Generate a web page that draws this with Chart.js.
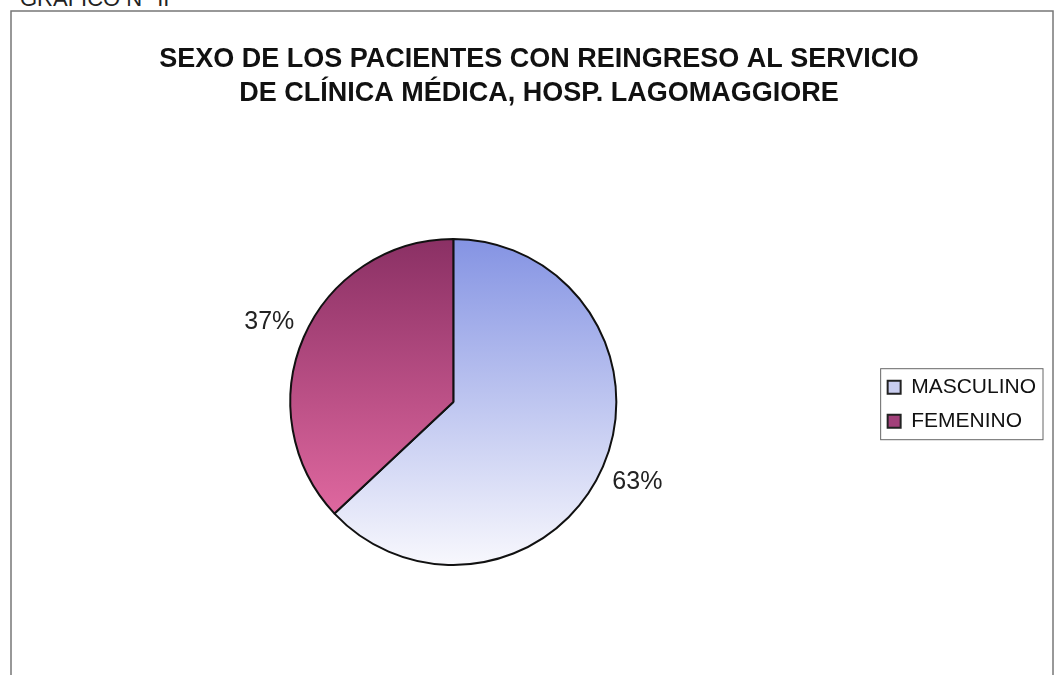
<!DOCTYPE html>
<html>
<head>
<meta charset="utf-8">
<script src="https://cdn.jsdelivr.net/npm/chart.js@4/dist/chart.umd.min.js"></script>
<style>
    html, body { margin: 0; padding: 0; background: #fff; overflow: hidden; }
    #wrap { position: relative; width: 1055px; height: 675px; }
    #heading {
        position: absolute; left: 20px; top: -14px;
        font: 22px "Liberation Sans", Arial, sans-serif; color: #222;
    }
    canvas { position: absolute; left: 0; top: 0; }
</style>
</head>
<body>
<div id="wrap">
    <div id="heading">GRÁFICO N° II</div>
    <canvas id="chartSexo" width="1055" height="675"></canvas>
</div>
<script>
const categories = ["MASCULINO", "FEMENINO"];
const percentages = [63, 37];

const sliceTop = ["#8493e3", "#8a3064"];
const sliceBottom = ["#f8f8fd", "#ef72aa"];
const legendFill = ["#c9cdef", "#a2407a"];

// degradado vertical de cada porción, según el tamaño real de la torta
function sliceGradient (context) {
    const chart = context.chart;
    const area = chart.chartArea;
    if (!area) return sliceTop[context.dataIndex];
    const cy = (area.top + area.bottom) / 2;
    const r = Math.min(area.right - area.left, area.bottom - area.top) / 2;
    const g = chart.ctx.createLinearGradient(0, cy - r, 0, cy + r);
    g.addColorStop(0, sliceTop[context.dataIndex]);
    g.addColorStop(1, sliceBottom[context.dataIndex]);
    return g;
}

// marco del gráfico, recuadro de la leyenda y porcentajes
const decoPlugin = {
    id: "deco",
    beforeDraw (chart) {
        const ctx = chart.ctx;
        ctx.save();
        ctx.strokeStyle = "#777";
        ctx.lineWidth = 1.5;
        ctx.strokeRect(11, 11, 1042, 700);
        ctx.restore();
    },
    afterDatasetsDraw (chart) {
        const ctx = chart.ctx;
        const meta = chart.getDatasetMeta(0);
        ctx.save();
        ctx.font = "25px 'Liberation Sans', Arial, sans-serif";
        ctx.fillStyle = "#222";
        ctx.textAlign = "center";
        ctx.textBaseline = "middle";
        meta.data.forEach((arc, i) => {
            const mid = (arc.startAngle + arc.endAngle) / 2;
            const text = percentages[i] + "%";
            const w = ctx.measureText(text).width;
            const h = 18;
            const cos = Math.cos(mid), sin = Math.sin(mid);
            const d = arc.outerRadius + 11 + Math.abs(cos) * w / 2 + Math.abs(sin) * h / 2;
            ctx.fillText(text, arc.x + cos * d, arc.y + sin * d);
        });
        ctx.restore();
    },
    afterDraw (chart) {
        const boxes = chart.legend.legendHitBoxes;
        if (!boxes || !boxes.length) return;
        const left = Math.min(...boxes.map(b => b.left));
        const right = Math.max(...boxes.map(b => b.left + b.width));
        const top = Math.min(...boxes.map(b => b.top));
        const bottom = Math.max(...boxes.map(b => b.top + b.height));
        const ctx = chart.ctx;
        ctx.save();
        ctx.strokeStyle = "#666";
        ctx.lineWidth = 1;
        ctx.strokeRect(left - 7, top - 8, right - left + 14, bottom - top + 16);
        ctx.restore();
    }
};

const ctxSexo = document.getElementById("chartSexo").getContext("2d");
const chartSexo = new Chart(ctxSexo, {
    type: "pie",
    data: {
        labels: categories,
        datasets: [
            {
                data: percentages,
                backgroundColor: sliceGradient,
                borderColor: "#111",
                borderWidth: 2,
            },
        ],
    },
    options: {
        responsive: false,
        animation: false,
        layout: {
            padding: { left: 32, right: 9, top: 0, bottom: 109 },
        },
        plugins: {
            title: {
                display: true,
                text: [
                    "SEXO DE LOS PACIENTES CON REINGRESO AL SERVICIO",
                    "DE CLÍNICA MÉDICA, HOSP. LAGOMAGGIORE",
                ],
                color: "#111",
                font: { family: "'Liberation Sans', Arial, sans-serif", size: 27, weight: "bold", lineHeight: 1.24 },
                padding: { top: 43, bottom: 128 },
            },
            legend: {
                position: "right",
                title: {
                    display: true,
                    text: " ",
                    font: { size: 12, lineHeight: 1.2 },
                    padding: { top: 228, bottom: 0 },
                },
                labels: {
                    boxWidth: 13,
                    boxHeight: 13,
                    padding: 13,
                    color: "#111",
                    font: { family: "'Liberation Sans', Arial, sans-serif", size: 21 },
                    generateLabels (chart) {
                        const items = Chart.overrides.pie.plugins.legend.labels.generateLabels(chart);
                        items.forEach((item, i) => {
                            item.fillStyle = legendFill[i];
                            item.strokeStyle = "#222";
                            item.lineWidth = 2;
                        });
                        return items;
                    },
                },
            },
            tooltip: { enabled: false },
        },
    },
    plugins: [decoPlugin],
});
</script>
</body>
</html>
